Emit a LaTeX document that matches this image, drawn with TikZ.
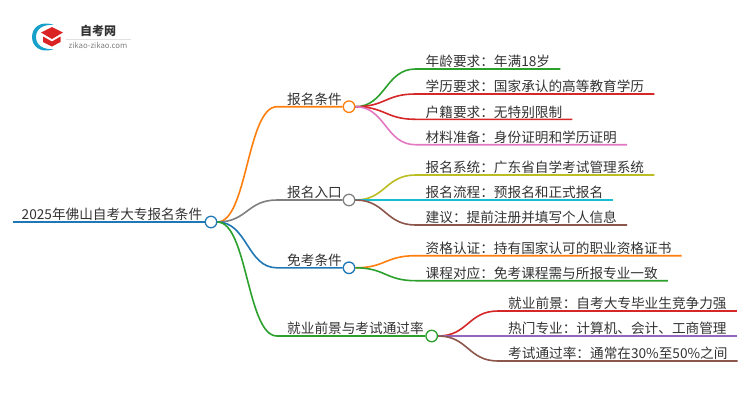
\documentclass[tikz,border=0pt]{standalone}
\usepackage{fontspec}
\setmainfont{Noto Sans CJK SC}
\usepackage{xcolor}
\definecolor{cOrange}{HTML}{FF7F0E}
\definecolor{cGrey}{HTML}{7F7F7F}
\definecolor{cBlue}{HTML}{1F77B4}
\definecolor{cGreen}{HTML}{2CA02C}
\definecolor{cRed}{HTML}{D62728}
\definecolor{cPink}{HTML}{E377C2}
\definecolor{cOlive}{HTML}{BCBD22}
\definecolor{cCyan}{HTML}{17BECF}
\definecolor{cBrown}{HTML}{8C564B}
\definecolor{cPurple}{HTML}{9467BD}
\definecolor{cText}{HTML}{333333}

\begin{document}
\begin{tikzpicture}[
  x=1pt, y=-1pt,
  lab/.style={anchor=south west, inner xsep=10pt, inner ysep=0.6pt, text=cText, text height=11pt, text depth=1.5pt,
    font=\fontsize{13.65}{16}\selectfont},
  hub/.style={circle, draw=#1, fill=white, line width=1.3pt, minimum size=11.5pt, inner sep=0pt},
  branch/.style={draw=#1, line width=1.6pt}
]
\useasboundingbox (0,0) rectangle (750,410);

% logo
\fill[cBlue!70!cyan] (54,25) .. controls (40,20) and (32,28) .. (32,37) .. controls (32,46) and (40,54) .. (54,49)
  .. controls (43,50) and (36,45) .. (36,37) .. controls (36,29) and (43,24) .. cycle;
\fill[cRed!90!red] (41,32.5) -- (52,27) -- (63,32.5) -- (52,39) -- cycle;
\fill[cRed!90!red] (43,36.5) -- (52,41.5) -- (60.5,36.5) -- (60.5,42) -- (52,46.5) -- (43,42) -- cycle;
\node[inner sep=0pt, text=cText, font=\fontsize{12}{14}\selectfont\bfseries] (logotitle) at (98,30.5) {自考网};
\draw[black!12, line width=0.6pt] (66,39) -- (131,39);
\node[inner sep=0pt, text=black!50, font=\fontsize{7.8}{10}\selectfont] (logourl) at (98,45) {zikao-zikao.com};

% titles
\node[lab, inner xsep=8.5pt] (mainT) at (13,222) {2025年佛山自考大专报名条件};
\node[lab] (regT) at (277,106.7) {报名条件};
\node[lab] (entryT) at (277,200) {报名入口};
\node[lab] (exemptT) at (277,267.8) {免考条件};
\node[lab] (careerT) at (277,336) {就业前景与考试通过率};

% leaves
\node[lab] (age) at (415.5,69) {年龄要求：年满18岁};
\node[lab] (edu) at (415.5,94) {学历要求：国家承认的高等教育学历};
\node[lab] (hukou) at (415.5,119.3) {户籍要求：无特别限制};
\node[lab] (docs) at (415.5,144.7) {材料准备：身份证明和学历证明};
\node[lab] (sys) at (415.5,175) {报名系统：广东省自学考试管理系统};
\node[lab] (flow) at (415.5,200) {报名流程：预报名和正式报名};
\node[lab] (tip) at (415.5,225) {建议：提前注册并填写个人信息};
\node[lab] (cert) at (415.5,255.7) {资格认证：持有国家认可的职业资格证书};
\node[lab] (course) at (415.5,280.7) {课程对应：免考课程需与所报专业一致};
\node[lab] (job) at (498,311) {就业前景：自考大专毕业生竞争力强};
\node[lab] (major) at (498,336) {热门专业：计算机、会计、工商管理};
\node[lab] (rate) at (498,361) {考试通过率：通常在30\%至50\%之间};

% hubs
\node[hub=cBlue] (root) at (211,222) {};
\node[hub=cOrange] (reg) at (349,106.7) {};
\node[hub=cGrey] (entry) at (349,200) {};
\node[hub=cBlue] (exempt) at (349,267.8) {};
\node[hub=cGreen] (career) at (431.7,336) {};

% connectors
\draw[branch=cBlue] (mainT.south west) -- (root.west);
\draw[branch=cOrange] (root.east) .. controls +(30,0) and +(-30,0) .. (regT.south west) -- (reg.west);
\draw[branch=cGrey] (root.east) .. controls +(30,0) and +(-30,0) .. (entryT.south west) -- (entry.west);
\draw[branch=cBlue] (root.east) .. controls +(30,0) and +(-30,0) .. (exemptT.south west) -- (exempt.west);
\draw[branch=cGreen] (root.east) .. controls +(30,0) and +(-30,0) .. (careerT.south west) -- (career.west);

\draw[branch=cGreen] (reg.east) .. controls +(30,0) and +(-30,0) .. (age.south west) -- (age.south east);
\draw[branch=cRed] (reg.east) .. controls +(30,0) and +(-30,0) .. (edu.south west) -- (edu.south east);
\draw[branch=cRed] (reg.east) .. controls +(30,0) and +(-30,0) .. (hukou.south west) -- (hukou.south east);
\draw[branch=cPink] (reg.east) .. controls +(30,0) and +(-30,0) .. (docs.south west) -- (docs.south east);

\draw[branch=cOlive] (entry.east) .. controls +(30,0) and +(-30,0) .. (sys.south west) -- (sys.south east);
\draw[branch=cCyan] (entry.east) -- (flow.south west) -- (flow.south east);
\draw[branch=cBrown] (entry.east) .. controls +(30,0) and +(-30,0) .. (tip.south west) -- (tip.south east);

\draw[branch=cOrange] (exempt.east) .. controls +(30,0) and +(-30,0) .. (cert.south west) -- (cert.south east);
\draw[branch=cGreen] (exempt.east) .. controls +(30,0) and +(-30,0) .. (course.south west) -- (course.south east);

\draw[branch=cRed] (career.east) .. controls +(30,0) and +(-30,0) .. (job.south west) -- (job.south east);
\draw[branch=cPurple] (career.east) -- (major.south west) -- (major.south east);
\draw[branch=cBrown] (career.east) .. controls +(30,0) and +(-30,0) .. (rate.south west) -- (rate.south east);
\end{tikzpicture}
\end{document}
